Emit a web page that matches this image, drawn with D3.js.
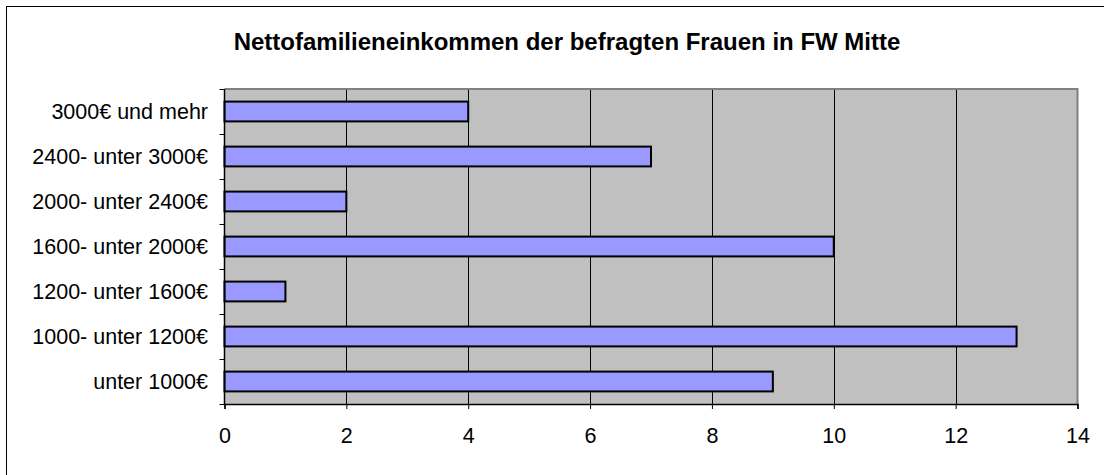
<!DOCTYPE html>
<html>
<head>
<meta charset="utf-8">
<script src="https://cdn.jsdelivr.net/npm/d3@7"></script>
<style>
  html, body { margin: 0; padding: 0; background: #fff; }
  svg { display: block; }
  text { font-family: "Liberation Sans", Arial, sans-serif; fill: #000; }
</style>
</head>
<body>
<svg id="chart" width="1104" height="475"></svg>
<script>
// Income brackets, listed from the top row of the chart to the bottom
const categories = [
  "3000€ und mehr",
  "2400- unter 3000€",
  "2000- unter 2400€",
  "1600- unter 2000€",
  "1200- unter 1600€",
  "1000- unter 1200€",
  "unter 1000€"
];
const counts = [4, 7, 2, 10, 1, 13, 9];
const xTicks = [0, 2, 4, 6, 8, 10, 12, 14];
const title = "Nettofamilieneinkommen der befragten Frauen in FW Mitte";

const svg = d3.select("#chart");
const W = 1104, H = 475;
const plot = { left: 224.5, right: 1077.5, top: 89, bottom: 404 };

// outer frame of the chart area
svg.append("rect")
  .attr("x", 6.5).attr("y", 6.5)
  .attr("width", W + 20).attr("height", H + 20)
  .attr("fill", "#fff").attr("stroke", "#000").attr("stroke-width", 1);

const x = d3.scaleLinear().domain([0, 14]).range([plot.left, plot.right]);
const y = d3.scaleBand().domain(categories).range([plot.top, plot.bottom]).padding(0);

// plot background
svg.append("rect")
  .attr("x", plot.left).attr("y", plot.top)
  .attr("width", plot.right - plot.left).attr("height", plot.bottom - plot.top)
  .attr("fill", "#c0c0c0");

// vertical gridlines
svg.append("g").selectAll("line")
  .data(xTicks.filter(t => t > 0 && t < 14))
  .join("line")
  .attr("x1", d => Math.round(x(d)) + 0.5).attr("x2", d => Math.round(x(d)) + 0.5)
  .attr("y1", plot.top).attr("y2", plot.bottom)
  .attr("stroke", "#000").attr("stroke-width", 1);

// plot border: grey top and right edges
svg.append("path")
  .attr("d", `M${plot.left},${plot.top}H${plot.right}V${plot.bottom}`)
  .attr("fill", "none").attr("stroke", "#808080").attr("stroke-width", 2);

// bars
const barH = y.bandwidth() * 0.44;
svg.append("g").selectAll("rect")
  .data(counts)
  .join("rect")
  .attr("x", x(0))
  .attr("y", (d, i) => y(categories[i]) + (y.bandwidth() - barH) / 2)
  .attr("width", d => x(d) - x(0))
  .attr("height", barH)
  .attr("fill", "#9999ff")
  .attr("stroke", "#000").attr("stroke-width", 2);

// x axis
const xAxis = d3.axisBottom(x).tickValues(xTicks).tickSize(5).tickPadding(19).tickFormat(d3.format("d"));
const gx = svg.append("g").attr("transform", `translate(0,${plot.bottom})`).call(xAxis);
gx.select(".domain").attr("stroke", "#000").attr("stroke-width", 1.5);
gx.selectAll(".tick line").attr("stroke", "#000");
gx.selectAll(".tick text").attr("font-size", 21.5).attr("font-family", "Liberation Sans, Arial, sans-serif");

// y axis: ticks at category boundaries
const boundaries = categories.map(c => y(c)).concat([plot.bottom]);
svg.append("line")
  .attr("x1", plot.left).attr("x2", plot.left)
  .attr("y1", plot.top).attr("y2", plot.bottom)
  .attr("stroke", "#000").attr("stroke-width", 1.5);
svg.append("g").selectAll("line")
  .data(boundaries)
  .join("line")
  .attr("x1", plot.left - 5).attr("x2", plot.left)
  .attr("y1", d => Math.round(d) + 0.5).attr("y2", d => Math.round(d) + 0.5)
  .attr("stroke", "#000");
svg.append("g").selectAll("text")
  .data(categories)
  .join("text")
  .attr("x", 208)
  .attr("y", d => y(d) + y.bandwidth() / 2)
  .attr("dy", "0.35em")
  .attr("text-anchor", "end")
  .attr("font-size", 21.5)
  .text(d => d);

// title
svg.append("text")
  .attr("x", 567).attr("y", 50)
  .attr("text-anchor", "middle")
  .attr("font-size", 24).attr("font-weight", "bold")
  .text(title);
</script>
</body>
</html>
